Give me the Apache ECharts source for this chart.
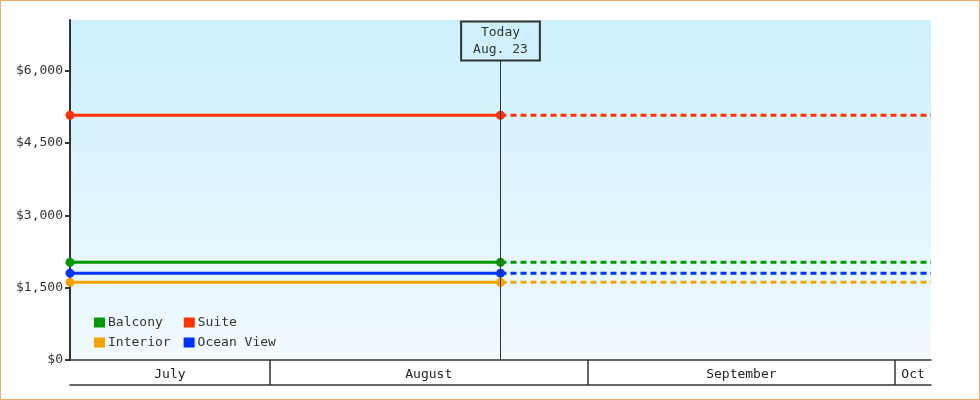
<!DOCTYPE html>
<html>
<head>
<meta charset="utf-8">
<script src="https://cdn.jsdelivr.net/npm/echarts@6/dist/echarts.min.js"></script>
<style>
html,body{margin:0;padding:0;background:#fff;}
#chart{width:980px;height:400px;box-sizing:border-box;border:1px solid #eeaa66;}
</style>
</head>
<body>
<div id="chart"></div>
<script>
// ---- data ----
const seriesNames = ['Balcony', 'Suite', 'Interior', 'Ocean View'];
const prices = [2025, 5075, 1610, 1800];
const startDay = 11.5;   // days after Jun 30 (Jul 12, midday)
const todayDay = 53.5;   // Aug 23
const endDay = 95.5;     // Oct 4
const months = ['July', 'August', 'September', 'Oct'];
const monthStarts = [31, 62, 92];         // Aug 1, Sep 1, Oct 1
const yTicks = [0, 1500, 3000, 4500, 6000];
const yMax = 7050;
const todayLabel = 'Today\nAug. 23';

// ---- styles ----
const colors = {'Balcony': '#009900', 'Suite': '#ff3300', 'Interior': '#f5a300', 'Ocean View': '#0033ff'};
const FONT = 'DejaVu Sans Mono';

const bounds = [startDay].concat(monthStarts, [endDay]);
const monthMids = months.map((m, i) => (bounds[i] + bounds[i + 1]) / 2);

const series = [];
seriesNames.forEach((name, i) => {
  series.push({
    name: name, type: 'line', data: [[startDay, prices[i]], [todayDay, prices[i]]],
    symbol: 'circle', symbolSize: 9, color: colors[name],
    lineStyle: {width: 3, color: colors[name]}, itemStyle: {color: colors[name]},
    z: 3, animation: false
  });
  series.push({
    name: name, type: 'line', data: [[todayDay, prices[i]], [endDay, prices[i]]],
    symbol: 'none', color: colors[name],
    lineStyle: {width: 3, type: [6, 4], color: colors[name]},
    z: 2, animation: false
  });
});
series.push({
  type: 'line', data: [], silent: true, animation: false,
  markLine: {
    silent: true, symbol: 'none', animation: false,
    lineStyle: {color: '#333', width: 1, type: 'solid'},
    label: {
      show: true, position: 'end', distance: 0, formatter: todayLabel,
      fontFamily: FONT, fontSize: 13, color: '#333', lineHeight: 17,
      borderColor: '#333', borderWidth: 1, padding: [3, 12, 2, 12], backgroundColor: 'rgba(0,0,0,0)'
    },
    data: [[{coord: [todayDay, 0]}, {coord: [todayDay, 6210]}]]
  }
});

const chart = echarts.init(document.getElementById('chart'), null, {renderer: 'canvas'});
chart.setOption({
  animation: false,
  textStyle: {fontFamily: FONT},
  grid: {
    left: 69, top: 19, right: 48, bottom: 39, show: true, borderWidth: 0,
    backgroundColor: {type: 'linear', x: 0, y: 0, x2: 0, y2: 1,
      colorStops: [{offset: 0, color: '#ccf0fd'}, {offset: 1, color: '#f2fafe'}]}
  },
  legend: [
    {data: [seriesNames[0], seriesNames[1]], left: 88, top: 310, icon: 'rect', itemWidth: 11, itemHeight: 10,
     itemGap: 21, selectedMode: false, textStyle: {fontFamily: FONT, fontSize: 13, color: '#333', padding: [0, 0, 0, -2]}},
    {data: [seriesNames[2], seriesNames[3]], left: 88, top: 330, icon: 'rect', itemWidth: 11, itemHeight: 10,
     itemGap: 13, selectedMode: false, textStyle: {fontFamily: FONT, fontSize: 13, color: '#333', padding: [0, 0, 0, -2]}}
  ],
  xAxis: [
    {
      type: 'value', min: startDay, max: endDay, position: 'bottom',
      splitLine: {show: false},
      axisLine: {show: true, lineStyle: {color: '#333', width: 1.5}},
      axisTick: {show: true, customValues: monthStarts, length: 25, inside: false, lineStyle: {color: '#333', width: 1.5}},
      axisLabel: {
        show: true, customValues: monthMids, margin: 8, fontFamily: FONT, fontSize: 13, color: '#222',
        formatter: v => { const k = monthMids.findIndex(m => Math.abs(m - v) < 1e-6); return k >= 0 ? months[k] : ''; }
      }
    },
    {
      type: 'value', min: startDay, max: endDay, position: 'bottom', offset: 25,
      splitLine: {show: false}, axisTick: {show: false}, axisLabel: {show: false},
      axisLine: {show: true, lineStyle: {color: '#333', width: 1.5}}
    }
  ],
  yAxis: {
    type: 'value', min: 0, max: yMax,
    splitLine: {show: false},
    axisLine: {show: true, lineStyle: {color: '#333', width: 2}},
    axisTick: {show: true, customValues: yTicks, length: 5, lineStyle: {color: '#333', width: 2}},
    axisLabel: {
      customValues: yTicks, margin: 7, fontFamily: FONT, fontSize: 13, color: '#333',
      formatter: v => '$' + v.toLocaleString('en-US')
    }
  },
  series: series
});
</script>
</body>
</html>
